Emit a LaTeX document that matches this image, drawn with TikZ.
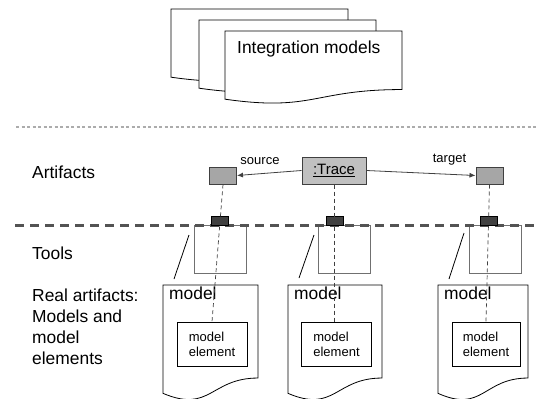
\documentclass[tikz,border=0pt]{standalone}
\usepackage{fontspec}
\setmainfont{Liberation Sans}
\usetikzlibrary{arrows.meta,calc}
\definecolor{boxline}{HTML}{404040}
\definecolor{tracefill}{HTML}{C0C0C0}
\definecolor{endfill}{HTML}{A6A6A6}
\definecolor{portfill}{HTML}{404040}
\definecolor{toolline}{HTML}{707070}
\newcommand{\docpath}[4]{% x y w h
  \draw[docline] (#1,#2) -- ({#1+#3},#2) -- ({#1+#3},{#2+0.802*#4})
    .. controls ({#1+0.5*#3},{#2+0.802*#4}) and ({#1+0.5*#3},{#2+1.107*#4}) .. (#1,{#2+0.934*#4}) -- cycle;}
\begin{document}
\begin{tikzpicture}[x=1pt,y=-1pt,
  docline/.style={draw=black,fill=white,line width=0.8pt},
  lbl/.style={font=\fontsize{17.4}{21}\selectfont,inner sep=0pt,anchor=base west,align=left},
  endbox/.style={draw=boxline,fill=endfill,line width=1pt,minimum width=27pt,minimum height=17pt,inner sep=0pt},
  tracebox/.style={draw=boxline,fill=tracefill,line width=1pt,minimum width=64pt,minimum height=27pt,inner sep=0pt,font=\fontsize{15}{17}\selectfont},
  portbox/.style={draw=black,fill=portfill,line width=0.8pt,minimum width=17pt,minimum height=9pt,inner sep=0pt},
  toolbox/.style={draw=toolline,fill=white,line width=1pt,minimum width=52pt,minimum height=48pt,inner sep=0pt},
  elembox/.style={draw=black,fill=white,line width=0.8pt,minimum width=70pt,minimum height=44pt,inner sep=0pt,align=left,font=\fontsize{13}{15}\selectfont},
  assoc/.style={draw=boxline,line width=0.8pt,-{Latex[length=6pt,width=5pt]}},
  trace/.style={draw=boxline,line width=0.7pt,dash pattern=on 4pt off 3pt},
  slant/.style={draw=black,line width=0.8pt}]
\useasboundingbox (0,0) rectangle (536,399);
% integration models
\docpath{171}{9}{177}{73}
\docpath{199}{20}{177}{73}
\docpath{225}{31}{177}{73}
\node[lbl] (intm) at (237,53) {Integration models};
% separator
\coordinate (sepA) at (16,127);
\coordinate (sepB) at (536,127);
\draw[color=gray!65,line width=1.3pt,dash pattern=on 3pt off 2.5pt] (sepA) -- (sepB);
% left labels
\node[lbl] (lart) at (32,178) {Artifacts};
\node[lbl] (ltools) at (32,259) {Tools};
\node[lbl,anchor=north west] (lreal) at (32,289) {Real artifacts:\\Models and\\model\\elements};
% artifacts
\node[tracebox] (trace) at (334,170.5) {\underline{:Trace}};
\node[endbox] (src) at (223,175.5) {};
\node[endbox] (tgt) at (489.5,175.5) {};
\node[font=\fontsize{13}{15}\selectfont,inner sep=0pt,anchor=base] (srcl) at (260,164) {source};
\node[font=\fontsize{13}{15}\selectfont,inner sep=0pt,anchor=base] (tgtl) at (449.5,162) {target};
\draw[assoc] (trace.west) -- (src.east);
\draw[assoc] (trace.east) -- (tgt.west);
% tools
\node[toolbox] (toolL) at (220,249) {};
\node[toolbox] (toolM) at (344.5,249) {};
\node[toolbox] (toolR) at (495.5,249) {};
% model documents
\docpath{163}{285}{95}{116}
\docpath{288}{285}{94}{116}
\docpath{438}{285}{90}{116}
\node[lbl] (mL) at (169,299) {model};
\node[lbl] (mM) at (294,299) {model};
\node[lbl] (mR) at (444,299) {model};
\node[elembox] (eL) at (212,344) {model\\element};
\node[elembox] (eM) at (336.5,344) {model\\element};
\node[elembox,minimum width=68pt] (eR) at (486,344) {model\\element};
% slanted lines
\coordinate (s1a) at (189,235); \coordinate (s1b) at (174,279);
\coordinate (s2a) at (314,235); \coordinate (s2b) at (299,278);
\coordinate (s3a) at (464,233); \coordinate (s3b) at (449,279);
\draw[slant] (s1a) -- (s1b);
\draw[slant] (s2a) -- (s2b);
\draw[slant] (s3a) -- (s3b);
% thick dashed boundary
\coordinate (bndA) at (15,225);
\coordinate (bndB) at (536,225);
\draw[color=boxline!90,line width=3pt,dash pattern=on 9pt off 6pt] (bndA) -- (bndB);
% ports
\node[portbox] (pL) at (220,220.5) {};
\node[portbox] (pM) at (335,220.5) {};
\node[portbox] (pR) at (488.5,220.5) {};
% trace links
\draw[trace] (src.south) -- (eL.north);
\draw[trace] (trace.south) -- (trace.south |- eM.north);
\draw[trace] (tgt.south) -- (eR.north);
\end{tikzpicture}
\end{document}
